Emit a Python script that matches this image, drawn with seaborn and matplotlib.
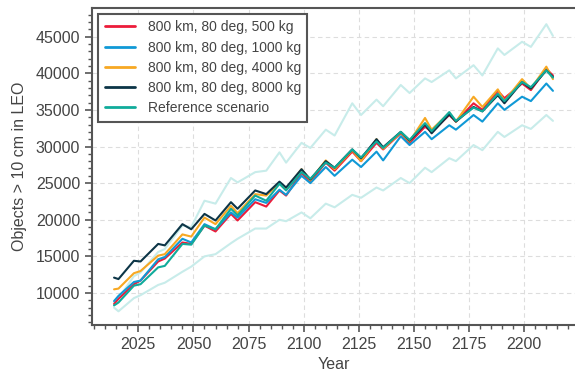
import numpy as np
import pandas as pd
import matplotlib
matplotlib.use("Agg")
import matplotlib.pyplot as plt
import seaborn as sns
from matplotlib.ticker import MultipleLocator

# Years sampled at the turning points of the solar-cycle wiggles
years = [2014, 2016, 2023, 2026, 2034, 2037, 2045, 2049, 2055, 2060,
         2067, 2070, 2078, 2083, 2089, 2092, 2099, 2103, 2110, 2114,
         2122, 2126, 2133, 2136, 2144, 2148, 2155, 2158, 2166, 2169,
         2177, 2181, 2188, 2191, 2199, 2203, 2210, 2213]

mass_500 = [8500, 9200, 11200, 11700, 14300, 14700, 16900, 16700, 19200, 18400,
            20800, 19900, 22400, 21800, 24000, 23300, 26400, 25200, 27800, 26700,
            29300, 28000, 30500, 29600, 31800, 30500, 32700, 32000, 34300, 33400,
            35900, 35000, 37600, 36600, 38600, 37700, 40600, 39700]

mass_1000 = [8900, 9600, 11500, 11700, 14600, 14900, 17400, 16900, 19400, 18700,
             21000, 20300, 22800, 22300, 24100, 23400, 26000, 25000, 27200, 26000,
             28200, 27200, 29300, 28100, 31400, 30200, 32000, 31000, 32900, 32300,
             34300, 33400, 35900, 35000, 36800, 36200, 38600, 37600]

mass_4000 = [10500, 10600, 12700, 13000, 15100, 15300, 18000, 17700, 20300, 19400,
             21900, 20900, 23500, 23300, 25000, 24200, 26900, 25400, 28100, 26900,
             29500, 28000, 31000, 29700, 31900, 30700, 33900, 32300, 34600, 33400,
             36800, 35400, 37800, 36200, 39200, 37900, 40900, 39200]

mass_8000 = [12100, 11900, 14400, 14300, 16700, 16500, 19400, 18700, 20800, 19900,
             22400, 21500, 24000, 23500, 25200, 24400, 26900, 25500, 28000, 27100,
             29600, 28400, 31000, 29900, 32000, 30800, 33000, 31800, 34400, 33400,
             35400, 34800, 37000, 35900, 38800, 37900, 40400, 39500]

reference = [8300, 8700, 11000, 11200, 13500, 13700, 16700, 16600, 19200, 18700,
             21500, 20600, 23300, 22600, 24900, 24000, 26500, 25600, 27800, 27100,
             29600, 28500, 30700, 29800, 32000, 30900, 33200, 32100, 34700, 33500,
             35300, 34800, 37200, 36200, 38800, 38100, 40400, 39400]

reference_upper = [8700, 9300, 12300, 12800, 15600, 16000, 19200, 19000, 22600, 22200,
                   25700, 25100, 26500, 26700, 29200, 27800, 30500, 29800, 32300, 31500,
                   35900, 34300, 36400, 35500, 38400, 37300, 39300, 38800, 40400, 39300,
                   41100, 39700, 43400, 42500, 44300, 43600, 46700, 45100]

reference_lower = [8000, 7500, 9300, 9700, 11100, 11400, 12900, 13600, 15000, 15300,
                   16800, 17400, 18800, 18800, 20000, 19800, 21000, 20200, 22200, 21700,
                   23400, 23000, 24400, 24000, 25700, 25000, 27100, 26500, 28400, 28000,
                   30200, 29500, 32000, 31300, 32900, 32400, 34300, 33500]

labels = ["800 km, 80 deg, 500 kg", "800 km, 80 deg, 1000 kg",
          "800 km, 80 deg, 4000 kg", "800 km, 80 deg, 8000 kg",
          "Reference scenario"]
colors = ["#ec1c3a", "#1099d6", "#f7a823", "#0c3547", "#10ab9b"]
band_color = "#c8ecea"

series = [mass_500, mass_1000, mass_4000, mass_8000, reference]
df = pd.DataFrame({
    "Year": np.tile(years, len(series)),
    "Objects": np.concatenate(series),
    "Scenario": np.repeat(labels, len(years)),
})
band = pd.DataFrame({
    "Year": np.tile(years, 2),
    "Objects": np.concatenate([reference_upper, reference_lower]),
    "Bound": np.repeat(["upper", "lower"], len(years)),
})

sns.set_theme(style="ticks")
plt.rcParams["font.family"] = ["Liberation Sans", "DejaVu Sans"]
text_color = "#444444"
plt.rcParams.update({
    "text.color": text_color,
    "axes.labelcolor": text_color,
    "xtick.color": "#555555",
    "ytick.color": "#555555",
    "xtick.labelcolor": text_color,
    "ytick.labelcolor": text_color,
})

fig = plt.figure(figsize=(5.75, 3.74), dpi=100)
ax = fig.add_axes([0.16, 0.131, 0.84, 0.848])

sns.lineplot(data=band, x="Year", y="Objects", units="Bound", estimator=None,
             color=band_color, lw=1.5, legend=False, ax=ax, zorder=1)
sns.lineplot(data=df, x="Year", y="Objects", hue="Scenario", hue_order=labels,
             palette=colors, lw=1.5, ax=ax, zorder=2)

ax.set_xlim(2004, 2223)
ax.set_ylim(5630, 48930)
ax.xaxis.set_major_locator(MultipleLocator(25))
ax.xaxis.set_minor_locator(MultipleLocator(5))
ax.yaxis.set_major_locator(MultipleLocator(5000))
ax.yaxis.set_minor_locator(MultipleLocator(1000))
ax.tick_params(axis="both", which="major", length=5, width=1.2, labelsize=11.5)
ax.tick_params(axis="both", which="minor", length=3, width=1.0)
ax.grid(True, which="major", ls=(0, (4, 3)), color="#dddddd", lw=0.8)
ax.set_axisbelow(True)

for side in ["left", "bottom", "top"]:
    ax.spines[side].set_color("#555555")
    ax.spines[side].set_linewidth(1.5)
ax.spines["right"].set_visible(False)

ax.set_xlabel("Year", fontsize=11.5, labelpad=4)
ax.set_ylabel("Objects > 10 cm in LEO", fontsize=11.5, labelpad=6)

leg = ax.legend(loc="upper left", fontsize=10, frameon=True, fancybox=False,
                borderaxespad=0.45, handlelength=2.2, handletextpad=0.9,
                labelspacing=0.45, borderpad=0.45)
leg.get_frame().set_edgecolor("#555555")
leg.get_frame().set_linewidth(1.5)
leg.get_frame().set_alpha(1.0)
for h in leg.get_lines():
    h.set_linewidth(2.0)
leg.set_title(None)

fig.savefig("out.png", dpi=100)
